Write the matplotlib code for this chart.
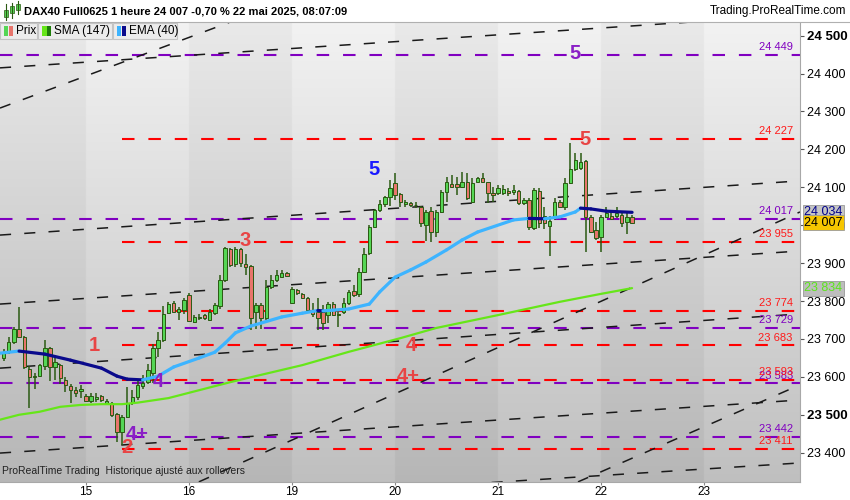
import matplotlib.pyplot as plt
import numpy as np
from matplotlib.collections import LineCollection
from matplotlib.patches import Rectangle

plt.rcParams['font.family'] = ['Liberation Sans', 'DejaVu Sans']
plt.rcParams['lines.scale_dashes'] = False

# bougies horaires DAX40 Full0625, du 14 mai (partiel) au 22 mai 08h
opens = [23649, 23666, 23693, 23725, 23704, 23622, 23599, 23602, 23629, 23675,
         23627, 23630, 23592, 23576, 23565, 23562, 23549, 23537, 23541, 23549,
         23532, 23530, 23502, 23455, 23493, 23530, 23548, 23576, 23587, 23609,
         23675, 23697, 23769, 23794, 23772, 23776, 23817, 23745, 23754, 23763,
         23750, 23769, 23787, 23855, 23936, 23899, 23936, 23899, 23892, 23770,
         23789, 23754, 23838, 23855, 23864, 23874, 23795, 23829, 23818, 23807,
         23776, 23772, 23772, 23763, 23792, 23763, 23772, 23795, 23826, 23818,
         23877, 23928, 23996, 24040, 24055, 24075, 24111, 24082, 24056, 24058,
         24052, 24047, 24001, 24038, 23983, 24036, 24088, 24110, 24110, 24102,
         24113, 24062, 24113, 24124, 24113, 24084, 24084, 24086, 24091, 24087,
         24091, 24058, 24067, 23992, 24091, 24024, 23998, 24018, 24062, 24049,
         24112, 24147, 24150, 24169, 24021, 23987, 23970, 24021, 24024, 24024,
         24027, 24009, 24021]
highs = [23673, 23706, 23731, 23785, 23708, 23629, 23611, 23634, 23697, 23680,
         23653, 23634, 23599, 23580, 23574, 23578, 23555, 23557, 23558, 23553,
         23541, 23535, 23506, 23499, 23574, 23565, 23592, 23605, 23635, 23688,
         23719, 23787, 23798, 23801, 23783, 23807, 23820, 23763, 23767, 23767,
         23778, 23794, 23868, 23943, 23939, 23943, 23939, 23925, 23895, 23795,
         23794, 23855, 23868, 23883, 23882, 23877, 23838, 23833, 23822, 23811,
         23794, 23807, 23789, 23798, 23798, 23776, 23807, 23829, 23842, 23886,
         23939, 24001, 24044, 24066, 24078, 24119, 24137, 24084, 24066, 24062,
         24060, 24051, 24040, 24049, 24040, 24093, 24128, 24133, 24128, 24141,
         24137, 24124, 24128, 24137, 24115, 24102, 24106, 24106, 24098, 24106,
         24093, 24071, 24071, 24097, 24097, 24049, 24024, 24071, 24066, 24124,
         24216, 24191, 24190, 24172, 24027, 24009, 24027, 24047, 24040, 24047,
         24036, 24036, 24027]
lows = [23643, 23660, 23688, 23702, 23622, 23517, 23567, 23599, 23618, 23590,
        23592, 23581, 23561, 23530, 23548, 23543, 23534, 23532, 23535, 23534,
        23526, 23495, 23429, 23420, 23491, 23526, 23539, 23568, 23581, 23583,
        23653, 23693, 23766, 23769, 23750, 23767, 23745, 23741, 23750, 23750,
        23748, 23763, 23780, 23851, 23889, 23889, 23890, 23868, 23723, 23725,
        23725, 23750, 23833, 23851, 23860, 23864, 23792, 23816, 23807, 23772,
        23758, 23723, 23723, 23741, 23760, 23732, 23767, 23789, 23811, 23811,
        23873, 23921, 23992, 24036, 24049, 24051, 24067, 24049, 24049, 24047,
        24045, 23995, 23958, 23957, 23970, 24031, 24062, 24098, 24080, 24098,
        24067, 24058, 24111, 24111, 24058, 24062, 24080, 24080, 24078, 24080,
        24053, 24053, 23988, 23988, 23992, 23990, 23919, 24014, 24045, 24040,
        24109, 24144, 24146, 23930, 23979, 23961, 23930, 24018, 24014, 24018,
        23994, 23978, 24003]
closes = [23662, 23691, 23725, 23704, 23627, 23599, 23602, 23630, 23675, 23627,
          23640, 23596, 23578, 23565, 23558, 23569, 23537, 23549, 23548, 23539,
          23536, 23499, 23455, 23493, 23530, 23548, 23578, 23585, 23618, 23675,
          23697, 23767, 23792, 23772, 23778, 23802, 23748, 23757, 23757, 23754,
          23772, 23789, 23855, 23939, 23895, 23936, 23901, 23890, 23754, 23789,
          23754, 23838, 23855, 23868, 23873, 23867, 23831, 23820, 23809, 23776,
          23767, 23754, 23741, 23792, 23763, 23767, 23795, 23824, 23817, 23877,
          23925, 23996, 24040, 24055, 24075, 24097, 24080, 24062, 24060, 24053,
          24054, 24005, 24036, 23983, 24036, 24088, 24115, 24102, 24100, 24115,
          24071, 24111, 24124, 24113, 24084, 24080, 24097, 24096, 24084, 24093,
          24058, 24067, 23995, 24093, 24005, 24005, 24012, 24062, 24047, 24112,
          24147, 24172, 24166, 24021, 23983, 23965, 24021, 24031, 24016, 24033,
          24007, 24021, 24007]

# premier bar de chaque jour
day_start = [16, 36, 56, 76, 96, 116, 136]
day_names = ['15', '16', '19', '20', '21', '22', '23']

# EMA (40) et SMA (147)
ema_bar = [-1, 3, 8, 13, 19, 22, 24, 27, 30, 33, 38, 41, 43, 45, 48, 50, 54, 58,
           61, 62, 64, 67, 71, 73, 76, 79, 82, 86, 89, 92, 99, 102, 105, 108,
           111, 112, 114, 117, 122]
ema_val = [23662, 23668, 23660, 23644, 23623, 23602, 23594, 23592, 23602, 23626,
           23650, 23665, 23689, 23716, 23734, 23742, 23758, 23768, 23775, 23774,
           23776, 23779, 23792, 23824, 23863, 23882, 23903, 23935, 23961, 23982,
           24014, 24018, 24017, 24022, 24035, 24045, 24043, 24037, 24034]
sma_bar = [-1, 3, 7, 11, 15, 19, 23, 26, 32, 36, 38, 44, 48, 58, 67, 77, 84, 96,
           108, 116, 122]
sma_val = [23486, 23500, 23508, 23521, 23526, 23528, 23528, 23532, 23544, 23558,
           23565, 23586, 23599, 23631, 23666, 23702, 23729, 23763, 23798, 23819,
           23834]

purple_levels = [24449, 24017, 23729, 23583, 23442]
red_levels = [24227, 23955, 23774, 23683, 23593, 23411]
red_from = 23

# lignes de tendance : (bar0, prix0, bar1, prix1)
trend_lines = [
    (-0.7, 24415, 154.6, 24555),
    (-0.7, 23974, 154.6, 24117),
    (-0.7, 23792, 154.6, 23932),
    (-0.7, 23623, 154.6, 23766),
    (-0.7, 23399, 154.6, 23539),
    (-0.7, 23239, 154.6, 23373),
    (-0.7, 24309, 44.0, 24536),
    (37.9, 23323, 154.6, 24035),
    (111.5, 23323, 154.6, 23579),
]

# comptage des vagues
waves = [
    ('5', 111.0, 24454, '#8a1fc6'),
    ('5', 112.9, 24227, '#e84545'),
    ('5', 71.9, 24146, '#1a1aff'),
    ('3', 46.9, 23961, '#e84545'),
    ('1', 17.7, 23684, '#e84545'),
    ('4', 30.0, 23589, '#8a1fc6'),
    ('4+', 25.9, 23447, '#8a1fc6'),
    ('2', 24.0, 23415, '#e84545'),
    ('4', 79.1, 23684, '#e84545'),
    ('4+', 78.5, 23600, '#e84545'),
]

ema_last, sma_last, last_price = 24034, 23834, 24007


def fmt(v):
    return f"{v:,}".replace(',', ' ')


fig = plt.figure(figsize=(8.5, 5), dpi=100)
ax = fig.add_axes([0, 18 / 500, 800 / 850, 460 / 500])
x0, x1 = -0.7, 154.6
y0, y1 = 23322.7, 24536

# fond dégradé + bandes par jour
cols = np.linspace(x0, x1, 1600)
dark = (np.searchsorted(day_start, cols, side='right') % 2 == 0)
rows = np.linspace(0.95, 0.75, 300)[:, None]
img = np.clip(rows - 0.035 * dark[None, :], 0, 1)
ax.imshow(np.dstack([img] * 3), extent=[x0, x1, y0, y1], aspect='auto',
          zorder=0, origin='upper', interpolation='bilinear')

# niveaux horizontaux
for v in purple_levels:
    ax.plot([x0, x1], [v, v], color='#8000c0', lw=1.5, dashes=(9, 10), zorder=1)
    ax.annotate(fmt(v), xy=(0.991, v), xycoords=('axes fraction', 'data'),
                xytext=(0, 2), textcoords='offset points', ha='right', va='bottom',
                fontsize=8, color='#8000c0', zorder=6)
for v in red_levels:
    ax.plot([red_from, x1], [v, v], color='#ff0000', lw=1.5, dashes=(9, 10), zorder=1)
    ax.annotate(fmt(v), xy=(0.991, v), xycoords=('axes fraction', 'data'),
                xytext=(0, 2), textcoords='offset points', ha='right', va='bottom',
                fontsize=8, color='#ff1a1a', zorder=6)

# lignes de tendance
for a, pa, b, pb in trend_lines:
    ax.plot([a, b], [pa, pb], color='#1a1a1a', lw=1.1, dashes=(8, 9.5), zorder=2)

# bougies
o = np.array(opens, float)
c = np.array(closes, float)
xs = np.arange(len(o))
up = c >= o
bottom = np.minimum(o, c)
height = np.maximum(np.abs(c - o), 2.6)
ax.vlines(xs, lows, highs, color='#2a5a12', lw=1.1, zorder=3)
ax.bar(xs, height, bottom=bottom, width=0.66,
       color=np.where(up, '#55d655', '#e8756c'), edgecolor='#2a5a12',
       linewidth=0.7, zorder=4)

# SMA
ax.plot(sma_bar, sma_val, color='#66e619', lw=1.6, zorder=5, solid_capstyle='round')

# EMA, claire en hausse, foncée en baisse
pts = np.column_stack([ema_bar, ema_val])
segs = np.stack([pts[:-1], pts[1:]], axis=1)
ecol = ['#3db4ff' if b >= a else '#0a0a8c' for a, b in zip(ema_val[:-1], ema_val[1:])]
ax.add_collection(LineCollection(segs, colors=ecol, linewidths=2.3, zorder=5,
                                 capstyle='round'))

# vagues
for t, bx, p, col in waves:
    ax.text(bx, p, t, color=col, fontsize=14.5, fontweight='bold',
            ha='center', va='center', zorder=7)

ax.set_xlim(x0, x1)
ax.set_ylim(y0, y1)

# axes
yt = list(range(23400, 24501, 100))
ax.yaxis.tick_right()
ax.set_yticks(yt, [fmt(v) for v in yt])
for lab, v in zip(ax.get_yticklabels(), yt):
    lab.set_fontsize(9)
    if v in (24500, 23500):
        lab.set_fontweight('bold')
        lab.set_fontsize(9.5)
ax.set_xticks(day_start, day_names)
ax.tick_params(axis='x', length=2.5, color='#888888', labelsize=8.5, pad=0.5)
ax.tick_params(axis='y', length=3, color='#555555', pad=2)
for s in ('top', 'left'):
    ax.spines[s].set_visible(False)
for s in ('right', 'bottom'):
    ax.spines[s].set_color('#a8a8a8')

# étiquettes de prix sur l'axe
tags = [(ema_last, '#00008b', '#c4c4c4'), (last_price, '#000000', '#f7c600'),
        (sma_last, '#5be61a', '#bdbdbd')]
for v, tc, bc in tags:
    ax.annotate(fmt(v), xy=(1.0, v), xycoords=('axes fraction', 'data'),
                xytext=(3, 0), textcoords='offset points', ha='left', va='center',
                fontsize=9, color=tc, annotation_clip=False, zorder=8,
                bbox=dict(boxstyle='square,pad=0.12', fc=bc, ec='#9a9a9a', lw=0.6))

ax.text(0.003, 0.012, 'ProRealTime Trading  Historique ajusté aux rollovers',
        transform=ax.transAxes, fontsize=7.5, color='#222222', va='bottom', zorder=8)

# en-tête
fig.patches.append(Rectangle((0, 478 / 500), 1, 22 / 500, transform=fig.transFigure,
                             fc='white', ec='none', zorder=0))
fig.add_artist(plt.Line2D([0, 1], [478 / 500, 478 / 500], transform=fig.transFigure,
                          color='#b0b0b0', lw=0.8))
fig.text(24 / 850, 489 / 500, 'DAX40 Full0625 1 heure 24 007 -0,70 % 22 mai 2025, 08:07:09',
         fontsize=8, fontweight='bold', va='center', ha='left')
fig.text(846 / 850, 489 / 500, 'Trading.ProRealTime.com', fontsize=8.5,
         va='center', ha='right')
for cx, lo, hi, bl, bh in [(6, 480, 496, 483, 490), (12, 482, 497, 487, 494),
                           (18, 486, 499, 490, 496)]:
    fig.add_artist(plt.Line2D([cx / 850] * 2, [lo / 500, hi / 500],
                              transform=fig.transFigure, color='#2a5a12', lw=0.8))
    fig.patches.append(Rectangle(((cx - 1.8) / 850, bl / 500), 3.6 / 850, (bh - bl) / 500,
                                 transform=fig.transFigure, fc='#55d655', ec='#2a5a12',
                                 lw=0.5))

# légende
legend_items = [('Prix', 0, 37, '#55d655', '#e8756c'),
                ('SMA (147)', 38, 112, '#66e619', '#1e7d0a'),
                ('EMA (40)', 113, 177, '#3db4ff', '#0a0a8c')]
for name, xa, xb, c1, c2 in legend_items:
    fig.patches.append(Rectangle((xa / 850, 461 / 500), (xb - xa) / 850, 16 / 500,
                                 transform=fig.transFigure, fc='#ececec', ec='#c4c4c4',
                                 lw=0.8, zorder=3))
    fig.patches.append(Rectangle(((xa + 4) / 850, 464 / 500), 4.5 / 850, 10 / 500,
                                 transform=fig.transFigure, fc=c1, ec='none', zorder=4))
    fig.patches.append(Rectangle(((xa + 8.5) / 850, 464 / 500), 4.5 / 850, 10 / 500,
                                 transform=fig.transFigure, fc=c2, ec='none', zorder=4))
    fig.text((xa + 16) / 850, 469 / 500, name, fontsize=8.5, va='center', ha='left',
             zorder=5)

fig.savefig('out.png', dpi=100)
